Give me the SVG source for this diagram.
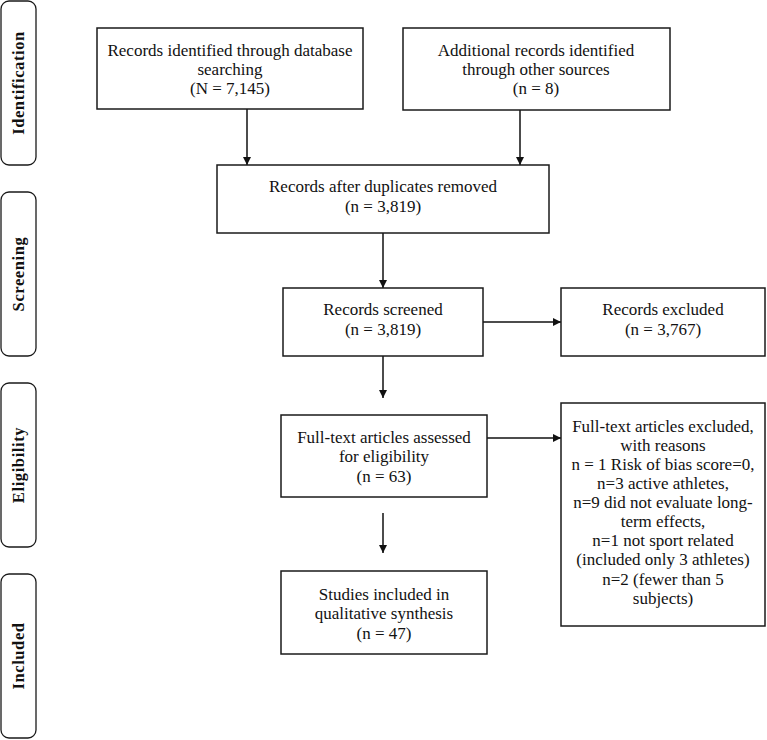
<svg xmlns="http://www.w3.org/2000/svg" width="767" height="740" viewBox="0 0 767 740">
<style>
.box{fill:#fff;stroke:#1a1a1a;stroke-width:1.5}
.side{fill:#fff;stroke:#1a1a1a;stroke-width:1.3}
.t{font-family:"Liberation Serif","Times New Roman",serif;font-size:17px;fill:#111;text-anchor:middle}
.s{font-family:"Liberation Serif","Times New Roman",serif;font-size:16.5px;font-weight:bold;fill:#111;text-anchor:middle;letter-spacing:0.6px}
.c{stroke:#111;stroke-width:1.5;fill:none;marker-end:url(#ah)}
</style>
<defs>
<marker id="ah" viewBox="0 0 10 10" refX="10" refY="5" markerWidth="8" markerHeight="8" markerUnits="userSpaceOnUse" orient="auto">
<path d="M0,0 L10,5 L0,10 z" fill="#111"/>
</marker>
</defs>
<rect width="767" height="740" fill="#fff"/>
<g id="phase-identification">
<rect class="side" x="1" y="1" width="35" height="164" rx="8"/>
<text class="s" transform="translate(24,83) rotate(-90)">Identification</text>
</g>
<g id="phase-screening">
<rect class="side" x="1" y="192" width="35" height="164" rx="8"/>
<text class="s" transform="translate(24,274) rotate(-90)">Screening</text>
</g>
<g id="phase-eligibility">
<rect class="side" x="1" y="383" width="35" height="164" rx="8"/>
<text class="s" transform="translate(24,465) rotate(-90)">Eligibility</text>
</g>
<g id="phase-included">
<rect class="side" x="1" y="574" width="35" height="164" rx="8"/>
<text class="s" transform="translate(24,656) rotate(-90)">Included</text>
</g>
<g id="connectors">
<line class="c" x1="247" y1="109" x2="247" y2="165"/>
<line class="c" x1="520" y1="110" x2="520" y2="165"/>
<line class="c" x1="383" y1="233" x2="383" y2="288"/>
<line class="c" x1="483" y1="322" x2="561" y2="322"/>
<line class="c" x1="383" y1="356" x2="383" y2="398"/>
<line class="c" x1="487" y1="438" x2="561" y2="438"/>
<line class="c" x1="383" y1="513" x2="383" y2="553"/>
</g>
<g id="n-db">
<rect class="box" x="97" y="28" width="266" height="81"/>
<text class="t" x="230" y="56">Records identified through database</text>
<text class="t" x="230" y="75">searching</text>
<text class="t" x="230" y="94">(N = 7,145)</text>
</g>
<g id="n-other">
<rect class="box" x="403" y="28" width="267" height="82"/>
<text class="t" x="536" y="56">Additional records identified</text>
<text class="t" x="536" y="75">through other sources</text>
<text class="t" x="536" y="94">(n = 8)</text>
</g>
<g id="n-dedup">
<rect class="box" x="217" y="165" width="332" height="68"/>
<text class="t" x="383" y="192">Records after duplicates removed</text>
<text class="t" x="383" y="212">(n = 3,819)</text>
</g>
<g id="n-screened">
<rect class="box" x="283" y="288" width="200" height="68"/>
<text class="t" x="383" y="315">Records screened</text>
<text class="t" x="383" y="335">(n = 3,819)</text>
</g>
<g id="n-excluded">
<rect class="box" x="561" y="288" width="204" height="68"/>
<text class="t" x="663" y="315">Records excluded</text>
<text class="t" x="663" y="335">(n = 3,767)</text>
</g>
<g id="n-fulltext">
<rect class="box" x="281" y="415" width="206" height="82"/>
<text class="t" x="384" y="443">Full-text articles assessed</text>
<text class="t" x="384" y="462">for eligibility</text>
<text class="t" x="384" y="482">(n = 63)</text>
</g>
<g id="n-ft-excluded">
<rect class="box" x="561" y="403" width="204" height="223"/>
<text class="t" x="663" y="432">Full-text articles excluded,</text>
<text class="t" x="663" y="451">with reasons</text>
<text class="t" x="663" y="470">n = 1 Risk of bias score=0,</text>
<text class="t" x="663" y="489">n=3 active athletes,</text>
<text class="t" x="663" y="508">n=9 did not evaluate long-</text>
<text class="t" x="663" y="527">term effects,</text>
<text class="t" x="663" y="546">n=1 not sport related</text>
<text class="t" x="663" y="565">(included only 3 athletes)</text>
<text class="t" x="663" y="585">n=2 (fewer than 5</text>
<text class="t" x="663" y="604">subjects)</text>
</g>
<g id="n-included">
<rect class="box" x="281" y="571" width="206" height="83"/>
<text class="t" x="384" y="600">Studies included in</text>
<text class="t" x="384" y="619">qualitative synthesis</text>
<text class="t" x="384" y="639">(n = 47)</text>
</g>
</svg>
